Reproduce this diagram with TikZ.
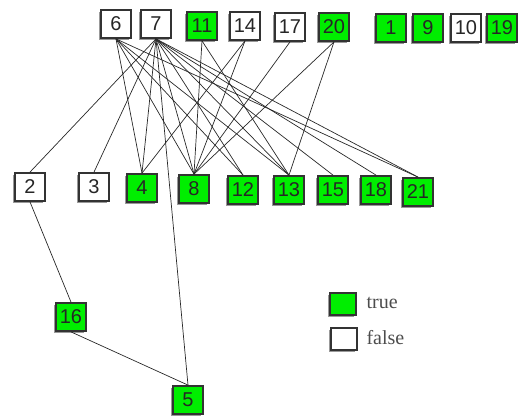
\documentclass[tikz,border=0pt]{standalone}
\usepackage{fontspec}
\setsansfont{Liberation Sans}
\setmainfont{Liberation Serif}
\usetikzlibrary{shadows}
\definecolor{tgreen}{RGB}{0,238,0}
\definecolor{edgecol}{RGB}{40,40,40}
\tikzset{
  vbox/.style={draw=black!80, line width=1.8pt, minimum width=30pt, minimum height=28pt,
    inner sep=0pt, font=\sffamily\fontsize{20}{20}\selectfont, text=black!85,
    drop shadow={shadow xshift=-2pt, shadow yshift=-2pt, fill=black!40, opacity=1}},
  tnode/.style={vbox, fill=tgreen},
  fnode/.style={vbox, fill=white},
  edge/.style={draw=edgecol, line width=0.7pt},
  legtext/.style={font=\rmfamily\fontsize{20}{20}\selectfont, text=black!70, anchor=west}
}
\begin{document}
\begin{tikzpicture}[x=1pt,y=-1pt]
\useasboundingbox (0,0) rectangle (523,417);
% top row
\node[fnode] (n6)  at (116,24) {6};
\node[fnode] (n7)  at (156,24) {7};
\node[tnode] (n11) at (202,26) {11};
\node[fnode] (n14) at (245,26) {14};
\node[fnode] (n17) at (290,27) {17};
\node[tnode] (n20) at (334,27) {20};
\node[tnode] (n1)  at (391,28) {1};
\node[tnode] (n9)  at (428,28) {9};
\node[fnode] (n10) at (466,28) {10};
\node[tnode] (n19) at (502,28) {19};
% middle row
\node[fnode] (n2)  at (30,187) {2};
\node[fnode] (n3)  at (94,187) {3};
\node[tnode] (n4)  at (142,188) {4};
\node[tnode] (n8)  at (194,189) {8};
\node[tnode] (n12) at (243,190) {12};
\node[tnode] (n13) at (289,190) {13};
\node[tnode] (n15) at (333,190) {15};
\node[tnode] (n18) at (376,190) {18};
\node[tnode] (n21) at (418,192) {21};
% lower
\node[tnode] (n16) at (71,317) {16};
\node[tnode] (n5)  at (188,400) {5};
% legend
\node[tnode, minimum width=26pt, minimum height=22pt] (lt) at (343,304) {};
\node[fnode, minimum width=26pt, minimum height=22pt] (lf) at (344,339) {};
\node[legtext] (ltt) at (363,303) {true};
\node[legtext] (lft) at (363,338) {false};
% edges
\foreach \t in {n4,n8,n12,n13,n21} \draw[edge] (n6.south) -- (\t.north);
\foreach \t in {n2,n3,n4,n5,n8,n12,n13,n15,n18,n21} \draw[edge] (n7.south) -- (\t.north);
\foreach \t in {n8,n13} \draw[edge] (n11.south) -- (\t.north);
\foreach \t in {n4,n8} \draw[edge] (n14.south) -- (\t.north);
\draw[edge] (n17.south) -- (n8.north);
\foreach \t in {n8,n13} \draw[edge] (n20.south) -- (\t.north);
\draw[edge] (n2.south) -- (n16.north);
\draw[edge] (n16.south) -- (n5.north);
\end{tikzpicture}
\end{document}
